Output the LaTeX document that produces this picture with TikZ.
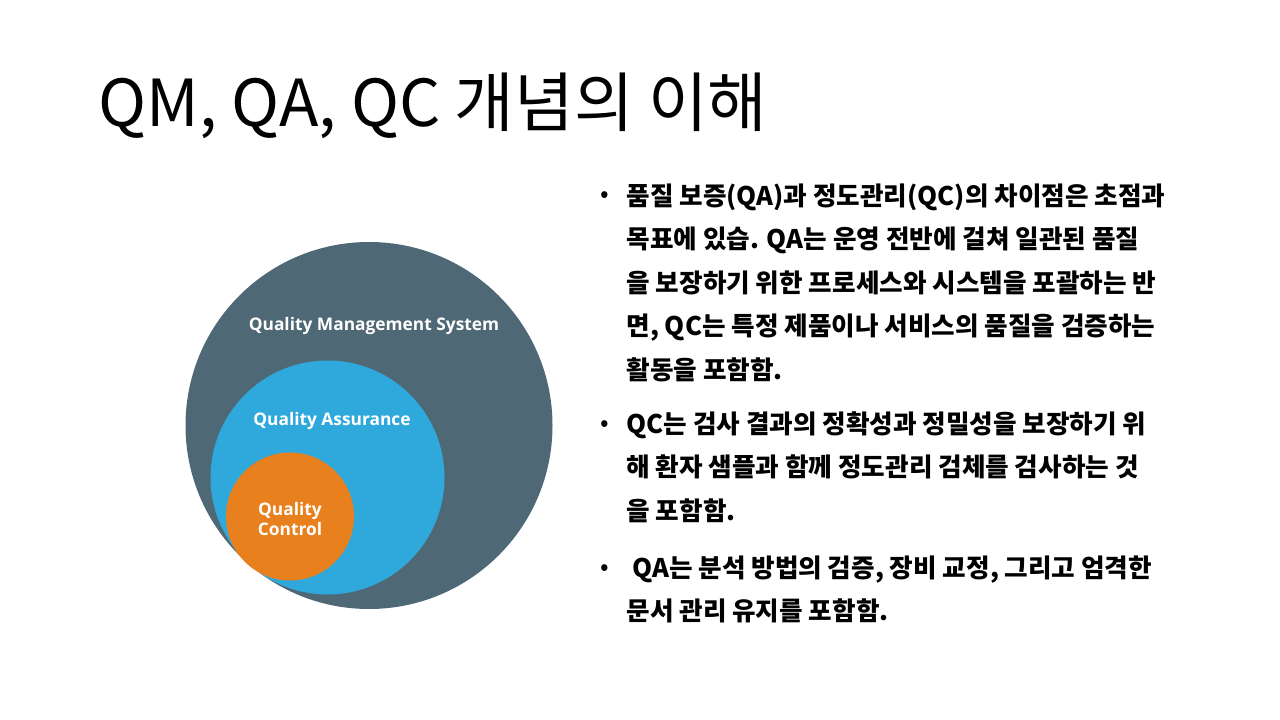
\documentclass[tikz,border=0pt]{standalone}
\usepackage{fontspec}
\setmainfont{Noto Sans CJK KR}
\newfontfamily\labelfont{Open Sans}

\begin{document}
\tikzset{every picture/.style={line width=0.75pt}}
\tikzset{
  ring/.style={circle, draw=none, inner sep=0pt},
  ringlabel/.style={text=white, align=center, font=\labelfont\bfseries\fontsize{13}{15}\selectfont},
  bulletdot/.style={anchor=base, inner sep=0pt, font=\fontsize{19}{20}\selectfont},
  bullettext/.style={anchor=base west, inner sep=0pt, align=left, font=\bfseries\fontsize{19.2}{32.6}\selectfont}
}

\begin{tikzpicture}[x=0.75pt,y=0.75pt,yscale=-1,xscale=1]
\useasboundingbox (0,0) rectangle (1280,720);

% Text Node
\draw (98,127) node [anchor=base west] [inner sep=0pt] [font=\fontsize{48.6}{56}\selectfont] (title) {QM, QA, QC 개념의 이해};

%Shape: Circle
\draw (369,425.5) node [ring, fill={rgb, 255:red, 79; green, 104; blue, 117 }, minimum size=367*0.75pt] (qms) {};
%Shape: Circle
\draw (327.5,477.5) node [ring, fill={rgb, 255:red, 47; green, 168; blue, 220 }, minimum size=234*0.75pt] (qa) {};
%Shape: Circle
\draw (290,516.5) node [ring, fill={rgb, 255:red, 232; green, 128; blue, 30 }, minimum size=128*0.75pt] (qc) {};

% Text Node
\draw (374,326) node [ringlabel] (qmslabel) {Quality Management System};
% Text Node
\draw (332,421) node [ringlabel] (qalabel) {Quality Assurance};
% Text Node
\draw (290,519) node [ringlabel] (qclabel) {Quality\\Control};

% Text Node (base anchor sits on the last line)
\draw (605,203) node [bulletdot] (dota) {•};
\draw (626,379) node [bullettext] (texta) {품질 보증(QA)과 정도관리(QC)의 차이점은 초점과\\목표에 있습. QA는 운영 전반에 걸쳐 일관된 품질\\을 보장하기 위한 프로세스와 시스템을 포괄하는 반\\면, QC는 특정 제품이나 서비스의 품질을 검증하는\\활동을 포함함.};
% Text Node
\draw (605,431) node [bulletdot] (dotb) {•};
\draw (626,520) node [bullettext] (textb) {QC는 검사 결과의 정확성과 정밀성을 보장하기 위\\해 환자 샘플과 함께 정도관리 검체를 검사하는 것\\을 포함함.};
% Text Node
\draw (605,575) node [bulletdot] (dotc) {•};
\draw (626,620.5) node [bullettext] (textc) {\ QA는 분석 방법의 검증, 장비 교정, 그리고 엄격한\\문서 관리 유지를 포함함.};

\end{tikzpicture}
\end{document}
